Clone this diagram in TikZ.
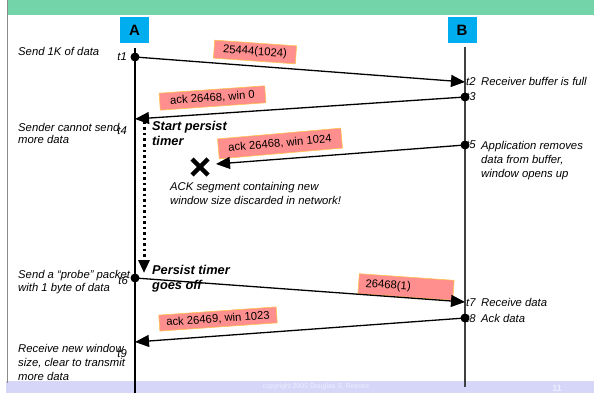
\documentclass[tikz,border=0pt]{standalone}
\usepackage{fontspec}
\setmainfont{Liberation Sans}
\usetikzlibrary{arrows.meta}
\definecolor{band}{HTML}{74D4A9}
\definecolor{foot}{HTML}{D6D6F8}
\definecolor{hostblue}{HTML}{00AEEF}
\definecolor{pinkfill}{HTML}{FF8E8E}
\definecolor{pinkedge}{HTML}{FFC34D}
\definecolor{foottext}{HTML}{EEEEFF}
\definecolor{edgegray}{HTML}{8A8A8A}
\tikzset{
  lbl/.style={font=\fontsize{11.3}{13.5}\selectfont\itshape, inner sep=0pt, align=left},
  tlab/.style={font=\fontsize{11.3}{13.5}\selectfont\itshape, inner sep=0pt},
  boldlbl/.style={font=\fontsize{12.8}{14.5}\selectfont\bfseries\itshape, inner sep=0pt, align=left},
  seg/.style={draw=pinkedge, fill=pinkfill, line width=0.6pt, font=\fontsize{11.3}{13}\selectfont, inner xsep=9pt, inner ysep=0pt, minimum height=18pt},
  msg/.style={line width=1.3pt, -{Triangle[length=14pt,width=12pt]}},
  evdot/.style={circle, fill=black, inner sep=0pt, minimum size=9pt},
  hostbox/.style={fill=hostblue, minimum width=29pt, minimum height=26pt, inner sep=0pt, font=\fontsize{15}{15}\selectfont\bfseries},
}
\begin{document}
\begin{tikzpicture}[x=1pt,y=-1pt]
\useasboundingbox (0,0) rectangle (594,393);
\fill[white] (0,0) rectangle (594,393);
\fill[band] (7,0) rectangle (594,15);
\fill[foot] (6,381) rectangle (594,393);
\draw[edgegray, line width=1.5pt] (7.5,0) -- (7.5,383);

% hosts
\node[hostbox] (A) at (134.5,30) {A};
\node[hostbox] (B) at (462,30) {B};

% timelines
\coordinate (Atop) at (135,48);
\coordinate (Abot) at (135,393);
\coordinate (Btop) at (465,47);
\coordinate (Bbot) at (465,387);
\draw[line width=1.2pt] (Atop) -- (Abot);
\draw[line width=1.2pt, black!75] (Btop) -- (Bbot);

% event points
\coordinate (t1) at (135,57);
\coordinate (t2) at (465,82);
\coordinate (t3) at (465,97);
\coordinate (t4) at (135,119);
\coordinate (t5) at (465,145);
\coordinate (lost) at (216,164);
\coordinate (t6) at (135,278);
\coordinate (t7) at (465,302);
\coordinate (t8) at (465,318);
\coordinate (t9) at (135,342);
\coordinate (p1) at (144,122);
\coordinate (p2) at (144,273);

% segment labels
\node[seg, rotate=-4] (s1) at (255,52) {25444(1024)};
\node[seg, rotate=4, inner xsep=10.5pt, minimum height=17pt] (s2) at (212.5,98) {ack 26468, win 0};
\node[seg, rotate=5, inner xsep=10pt, minimum height=20pt] (s3) at (280,143.5) {ack 26468, win 1024};
\node[seg, rotate=-4, text width=81pt, align=left, inner xsep=7pt, minimum height=20pt] (s4) at (406,287) {26468(1)};
\node[seg, rotate=4, inner xsep=7pt, minimum height=16pt] (s5) at (218,319) {ack 26469, win 1023};

% messages
\draw[msg] (t1) -- (t2);
\draw[msg] (t3) -- (t4);
\draw[msg] (t5) -- (lost);
\draw[msg] (t6) -- (t7);
\draw[msg] (t8) -- (t9);

% persist timer
\draw[line width=3pt, dash pattern=on 2.5pt off 3pt, -{Triangle[length=13pt,width=11pt]}] (p1) -- (p2);

% lost segment cross
\coordinate (x1) at (192,159);
\coordinate (x2) at (208,175);
\coordinate (x3) at (192,175);
\coordinate (x4) at (208,159);
\draw[line width=4.5pt] (x1) -- (x2);
\draw[line width=4.5pt] (x3) -- (x4);

% time labels (left)
\node[tlab, anchor=base east] (lt1) at (127,61) {t1};
\node[tlab, anchor=base east] (lt4) at (127,135) {t4};
\node[tlab, anchor=base east] (lt6) at (128,284) {t6};
\node[tlab, anchor=base east] (lt9) at (127,357) {t9};

% time labels (right)
\node[tlab, anchor=base west] (lt2) at (466,86) {t2};
\node[tlab, anchor=base west] (lt3) at (466,101) {t3};
\node[tlab, anchor=base west] (lt5) at (466,149) {t5};
\node[tlab, anchor=base west] (lt7) at (466,306) {t7};
\node[tlab, anchor=base west] (lt8) at (466,322) {t8};

% event dots
\node[evdot] (d1) at (t1) {};
\node[evdot] (d3) at (t3) {};
\node[evdot] (d5) at (t5) {};
\node[evdot] (d6) at (t6) {};
\node[evdot] (d8) at (t8) {};

% left descriptions (base anchor = last line)
\node[lbl, anchor=base west] (l1) at (18,56) {Send 1K of data};
\node[lbl, anchor=base west, font=\fontsize{11.3}{12}\selectfont\itshape] (l2) at (18,143) {Sender cannot send\\more data};
\node[lbl, anchor=base west, font=\fontsize{11.3}{13}\selectfont\itshape] (l3) at (18,291) {Send a “probe” packet\\with 1 byte of data};
\node[lbl, anchor=base west, font=\fontsize{11.3}{14}\selectfont\itshape] (l4) at (18,380) {Receive new window\\size, clear to transmit\\more data};

% right descriptions
\node[lbl, anchor=base west] (r2) at (481,86) {Receiver buffer is full};
\node[lbl, anchor=base west, font=\fontsize{11.3}{14}\selectfont\itshape] (r5) at (481,177) {Application removes\\data from buffer,\\window opens up};
\node[lbl, anchor=base west] (r7) at (481,306) {Receive data};
\node[lbl, anchor=base west] (r8) at (481,322) {Ack data};

% middle notes
\node[boldlbl, anchor=base west, font=\fontsize{12.8}{15}\selectfont\bfseries\itshape] (startp) at (152,146) {Start persist\\timer};
\node[boldlbl, anchor=base west] (persoff) at (152,289) {Persist timer\\goes off};
\node[lbl, anchor=base west, font=\fontsize{11.3}{14}\selectfont\itshape] (note) at (170,204) {ACK segment containing new\\window size discarded in network!};

% footer
\node[font=\fontsize{6.9}{8}\selectfont, text=foottext, inner sep=0pt] (copy) at (316,387) {copyright 2005 Douglas S. Reeves};
\node[font=\fontsize{9}{9}\selectfont\bfseries, text=foottext, inner sep=0pt] (pg) at (557,388) {11};
\end{tikzpicture}
\end{document}
